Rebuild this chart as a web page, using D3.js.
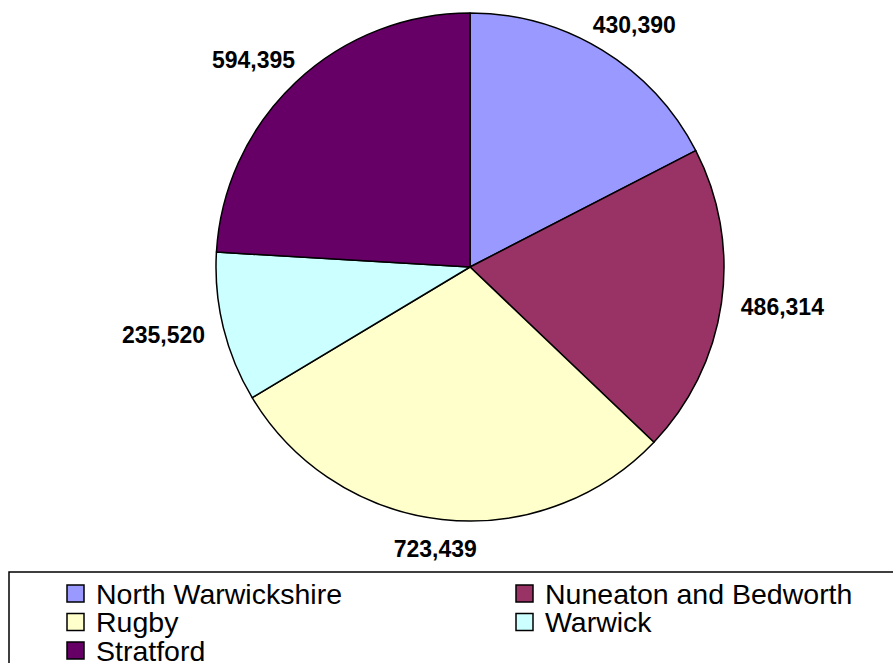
<!DOCTYPE html>
<html>
<head>
<meta charset="utf-8">
<script src="https://cdn.jsdelivr.net/npm/d3@7"></script>
<style>
  body { margin: 0; background: #fff; }
  svg { display: block; font-family: "Liberation Sans", Arial, sans-serif; }
</style>
</head>
<body>
<div id="chart"></div>
<script>
// district names and values
var districts = ["North Warwickshire", "Nuneaton and Bedworth", "Rugby", "Warwick", "Stratford"];
var values = [430390, 486314, 723439, 235520, 594395];
var colours = ["#9999FF", "#993366", "#FFFFCC", "#CCFFFF", "#660066"];

var w = 893, h = 663;
var cx = 470, cy = 267, radius = 254;

var svg = d3.select("#chart")
            .append("svg")
            .attr("width", w)
            .attr("height", h);

var data = districts.map(function(d, i) { return {name: d, value: values[i]}; });

var pie = d3.pie()
            .sort(null)
            .value(function(d) { return d.value; });

var arc = d3.arc()
            .innerRadius(0)
            .outerRadius(radius);

var color = d3.scaleOrdinal()
              .domain(districts)
              .range(colours);

var g = svg.append("g")
           .attr("transform", "translate(" + cx + "," + cy + ")");

var slices = pie(data);

g.selectAll("path")
  .data(slices)
  .enter()
  .append("path")
  .attr("d", arc)
  .attr("fill", function(d) { return color(d.data.name); })
  .attr("stroke", "#000")
  .attr("stroke-width", 1.5)
  .attr("stroke-linejoin", "round");

// value labels sit just outside the pie, pushed out by half their own box
var fmt = d3.format(",");
var gap = 20, hh = 10;
var labels = g.selectAll("text.val")
  .data(slices)
  .enter()
  .append("text")
  .attr("class", "val")
  .attr("text-anchor", "middle")
  .attr("dy", "0.35em")
  .attr("font-size", "23px")
  .attr("font-weight", "bold")
  .text(function(d) { return fmt(d.data.value); });

labels.each(function(d) {
    var a = (d.startAngle + d.endAngle) / 2;
    var hw = this.getComputedTextLength() / 2;
    d3.select(this)
      .attr("x", Math.sin(a) * (radius + gap) + Math.sin(a) * hw)
      .attr("y", -Math.cos(a) * (radius + gap) - Math.cos(a) * hh);
});

// legend
var legend = svg.append("g");
legend.append("rect")
      .attr("x", 9)
      .attr("y", 572)
      .attr("width", 900)
      .attr("height", 120)
      .attr("fill", "#fff")
      .attr("stroke", "#000")
      .attr("stroke-width", 1.5);

var cols = 2, colX = [67, 516], rowY = 593.5, rowH = 28.5;
var items = legend.selectAll("g.item")
                  .data(districts)
                  .enter()
                  .append("g")
                  .attr("class", "item")
                  .attr("transform", function(d, i) {
                      return "translate(" + colX[i % cols] + "," + (rowY + Math.floor(i / cols) * rowH) + ")";
                  });

items.append("rect")
     .attr("x", 0)
     .attr("y", -8.5)
     .attr("width", 17)
     .attr("height", 17)
     .attr("fill", function(d) { return color(d); })
     .attr("stroke", "#000")
     .attr("stroke-width", 1.5);

items.append("text")
     .attr("x", 29)
     .attr("dy", "0.36em")
     .attr("font-size", "28.5px")
     .text(function(d) { return d; });
</script>
</body>
</html>
